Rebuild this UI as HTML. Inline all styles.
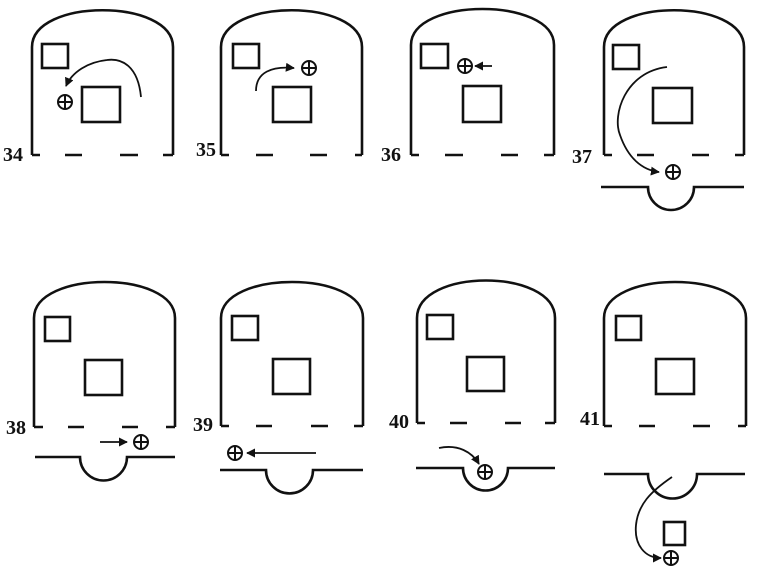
<!DOCTYPE html>
<html><head><meta charset="utf-8"><style>
html,body{margin:0;padding:0;background:#fff}
svg{display:block}
text{font-family:"Liberation Serif",serif;font-weight:bold;font-size:20px;fill:#111}
</style></head><body>
<svg width="768" height="575" viewBox="0 0 768 575" xmlns="http://www.w3.org/2000/svg">
<defs>
<marker id="ah" viewBox="0 0 10 10" refX="9" refY="5" markerWidth="5" markerHeight="5" orient="auto"><path d="M0,0 L10,5 L0,10 z" fill="#111"/></marker>
</defs>
<g fill="none" stroke="#111" stroke-width="2.6">
<path d="M32,155 L32,47 C32,-2 173,-2 173,47 L173,155"/>
<path d="M32,155 H40 M65,155 H82 M120,155 H138 M163,155 H173"/>
<rect x="42" y="44" width="26" height="24"/>
<rect x="82" y="87" width="38" height="35"/>
<path d="M141,97 C138,66 122,58 107,60 C88,62 72,72 66,86" stroke-width="1.8" marker-end="url(#ah)"/>
<path d="M221,155 L221,47 C221,-2 362,-2 362,47 L362,155"/>
<path d="M221,155 H229 M256,155 H273 M310,155 H327 M355,155 H362"/>
<rect x="233" y="44" width="26" height="24"/>
<rect x="273" y="87" width="38" height="35"/>
<path d="M256,91 C256,72 272,66 294,68" stroke-width="1.8" marker-end="url(#ah)"/>
<path d="M411,155 L411,45 C411,-3 554,-3 554,45 L554,155"/>
<path d="M411,155 H419 M445,155 H463 M501,155 H518 M544,155 H554"/>
<rect x="421" y="44" width="27" height="24"/>
<rect x="463" y="86" width="38" height="36"/>
<path d="M492,66 L475,66" stroke-width="1.8" marker-end="url(#ah)"/>
<path d="M604,155 L604,47 C604,-2 744,-2 744,47 L744,155"/>
<path d="M604,155 H612 M637,155 H654 M692,155 H709 M735,155 H744"/>
<rect x="613" y="45" width="26" height="24"/>
<rect x="653" y="88" width="39" height="35"/>
<path d="M667,67 C625,72 612,115 620,135 C628,158 642,170 659,172" stroke-width="1.8" marker-end="url(#ah)"/>
<path d="M601,187 H648 A23,23 0 0 0 694,187 H744"/>
<path d="M34,427 L34,318 C34,270 175,270 175,318 L175,427"/>
<path d="M34,427 H43 M68,427 H84 M122,427 H138 M166,427 H175"/>
<rect x="45" y="317" width="25" height="24"/>
<rect x="85" y="360" width="37" height="35"/>
<path d="M100,442 L127,442" stroke-width="1.8" marker-end="url(#ah)"/>
<path d="M35,457 H80 A23.5,23.5 0 0 0 127,457 H175"/>
<path d="M221,426 L221,318 C221,270 363,270 363,318 L363,426"/>
<path d="M221,426 H229 M256,426 H272 M311,426 H328 M354,426 H363"/>
<rect x="232" y="316" width="26" height="24"/>
<rect x="273" y="359" width="37" height="35"/>
<path d="M316,453 L247,453" stroke-width="1.8" marker-end="url(#ah)"/>
<path d="M220,470 H266 A23.5,23.5 0 0 0 313,470 H363"/>
<path d="M417,423 L417,318 C417,268 555,268 555,318 L555,423"/>
<path d="M417,423 H425 M450,423 H467 M505,423 H521 M545,423 H555"/>
<rect x="427" y="315" width="26" height="24"/>
<rect x="467" y="357" width="37" height="34"/>
<path d="M439,448 C458,444 472,452 479,464" stroke-width="1.8" marker-end="url(#ah)"/>
<path d="M416,468 H463 A22.5,22.5 0 0 0 508,468 H555"/>
<path d="M604,426 L604,318 C604,270 746,270 746,318 L746,426"/>
<path d="M604,426 H612 M639,426 H655 M693,426 H710 M738,426 H746"/>
<rect x="616" y="316" width="25" height="24"/>
<rect x="656" y="359" width="38" height="35"/>
<path d="M604,474 H648 A24.5,24.5 0 0 0 697,474 H745"/>
<path d="M672,477 C650,492 638,505 636,525 C634,545 645,558 661,558" stroke-width="1.8" marker-end="url(#ah)"/>
<rect x="664" y="522" width="21" height="23"/>
</g>
<g fill="none" stroke="#111" stroke-width="2">
<g transform="translate(65,102)"><circle r="7"/><path d="M-7,0H7M0,-7V7"/></g>
<g transform="translate(309,68)"><circle r="7"/><path d="M-7,0H7M0,-7V7"/></g>
<g transform="translate(465,66)"><circle r="7"/><path d="M-7,0H7M0,-7V7"/></g>
<g transform="translate(673,172)"><circle r="7"/><path d="M-7,0H7M0,-7V7"/></g>
<g transform="translate(141,442)"><circle r="7"/><path d="M-7,0H7M0,-7V7"/></g>
<g transform="translate(235,453)"><circle r="7"/><path d="M-7,0H7M0,-7V7"/></g>
<g transform="translate(485,472)"><circle r="7"/><path d="M-7,0H7M0,-7V7"/></g>
<g transform="translate(671,558)"><circle r="7"/><path d="M-7,0H7M0,-7V7"/></g>
</g>
<text x="3" y="161">34</text>
<text x="196" y="156">35</text>
<text x="381" y="161">36</text>
<text x="572" y="163">37</text>
<text x="6" y="434">38</text>
<text x="193" y="431">39</text>
<text x="389" y="428">40</text>
<text x="580" y="425">41</text>
</svg>
</body></html>
